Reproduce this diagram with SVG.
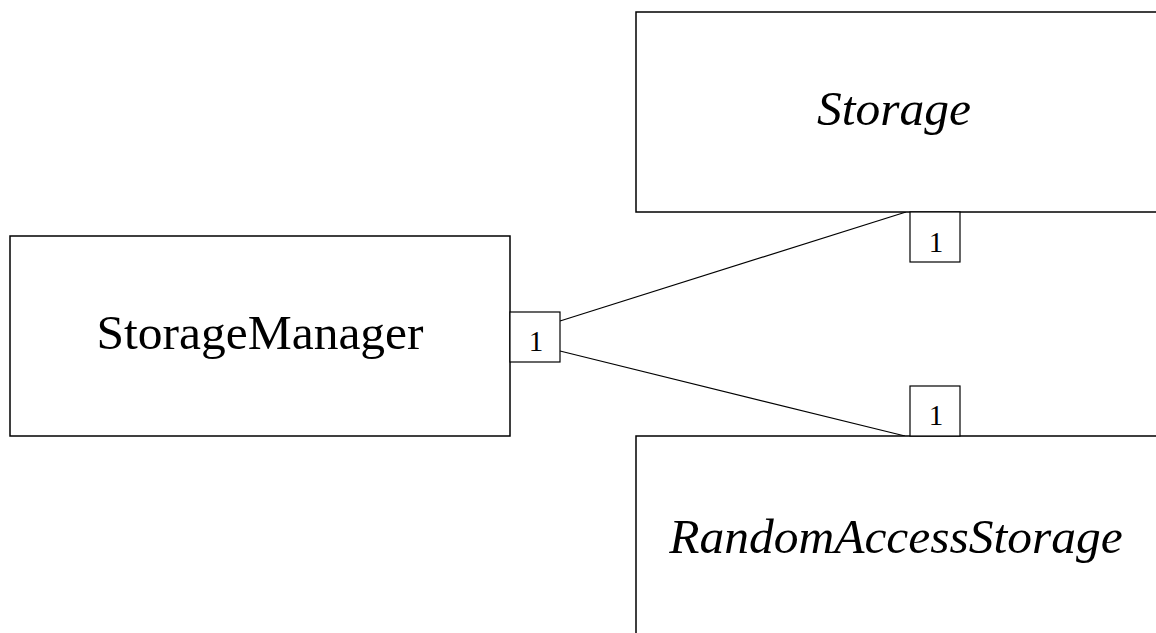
<svg xmlns="http://www.w3.org/2000/svg" width="1156" height="633" viewBox="0 0 1156 633">
  <style>
    .cls { fill: #ffffff; stroke: #000000; stroke-width: 1.5; }
    .mult { fill: #ffffff; stroke: #000000; stroke-width: 1.2; }
    .name { font-family: "Liberation Serif", "Times New Roman", serif; font-size: 49.5px; fill: #000000; text-anchor: middle; }
    .abstract { font-style: italic; }
    .num { font-family: "Liberation Serif", "Times New Roman", serif; font-size: 29px; fill: #000000; text-anchor: middle; }
    .assoc { stroke: #000000; stroke-width: 1.2; fill: none; }
  </style>
  <rect width="1156" height="633" fill="#ffffff"/>

  <g id="connectors">
    <line class="assoc" x1="560" y1="321" x2="906" y2="212"/>
    <line class="assoc" x1="560" y1="351" x2="905" y2="436"/>
  </g>

  <g id="node-storage-manager">
    <rect class="cls" x="10" y="236" width="500" height="200"/>
    <text class="name" x="260" y="349">StorageManager</text>
  </g>

  <g id="node-storage">
    <rect class="cls" x="636" y="12" width="540" height="200"/>
    <text class="name abstract" x="894" y="125">Storage</text>
  </g>

  <g id="node-random-access-storage">
    <rect class="cls" x="636" y="436" width="540" height="220"/>
    <text class="name abstract" x="896" y="553">RandomAccessStorage</text>
  </g>

  <g id="multiplicities">
    <rect class="mult" x="510" y="312" width="50" height="50"/>
    <text class="num" x="536" y="351">1</text>
    <rect class="mult" x="910" y="212" width="50" height="50"/>
    <text class="num" x="936" y="252">1</text>
    <rect class="mult" x="910" y="386" width="50" height="50"/>
    <text class="num" x="936" y="425">1</text>
  </g>
</svg>
